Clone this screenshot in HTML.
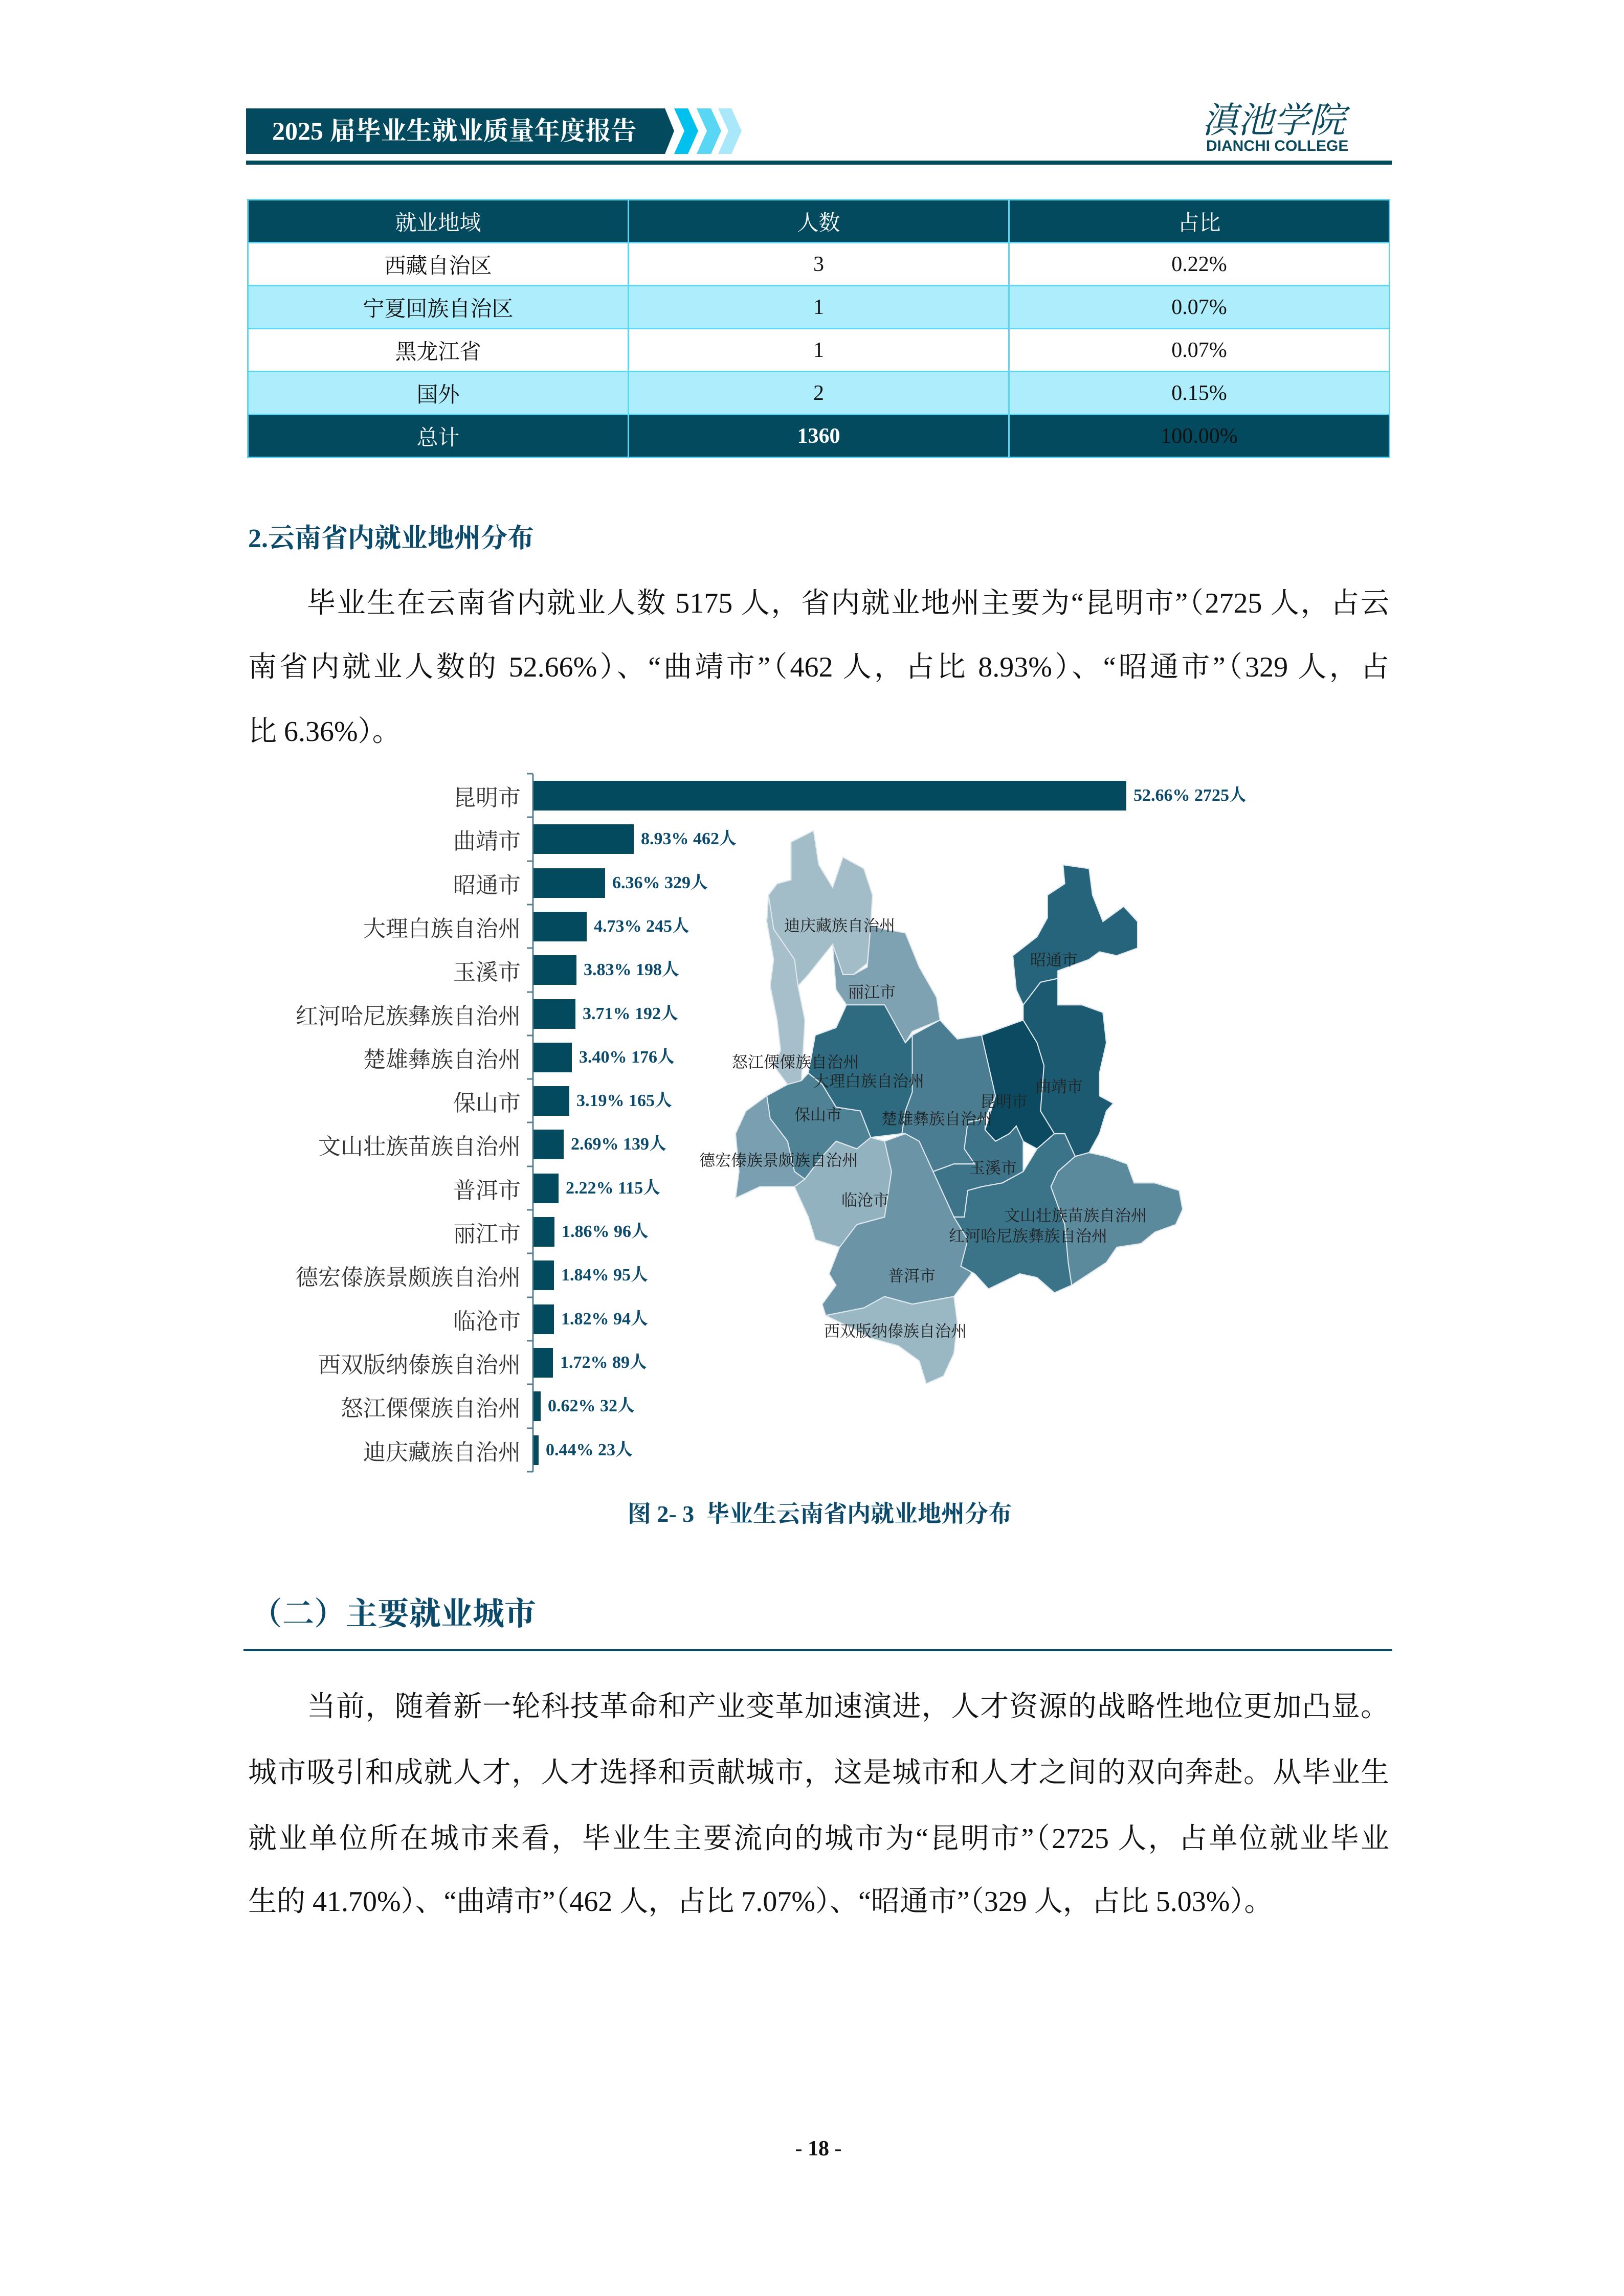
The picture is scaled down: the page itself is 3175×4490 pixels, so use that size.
<!DOCTYPE html>
<html><head><meta charset="utf-8">
<style>
body{margin:0;width:3175px;height:4490px;background:#fff;position:relative;overflow:hidden;font-family:"Liberation Serif","Noto Serif CJK SC",serif;}
.a{position:absolute;white-space:nowrap;}
.ln{position:absolute;left:485px;width:2231px;font-size:56px;line-height:56px;color:#111;text-align:justify;text-align-last:justify;white-space:nowrap;}
table{position:absolute;left:483px;top:389px;width:2235px;border-collapse:collapse;font-size:42px;table-layout:fixed;}
td{border:3px solid #5fd3f0;text-align:center;height:81px;padding:0;color:#111;}
tr.h td{background:#044a5e;color:#fff;}
tr.c td{background:#aeeefc;}
.cat{position:absolute;right:2157px;font-size:44px;line-height:44px;color:#333;font-family:"Noto Serif CJK SC",serif;}
.val{position:absolute;font-size:34px;line-height:34px;color:#0b4a6b;font-weight:bold;}
.bar{position:absolute;left:1043px;height:58px;background:#044a5e;}
.ml{position:absolute;font-size:31px;line-height:31px;color:#222;font-family:"Noto Serif CJK SC",serif;white-space:nowrap;}
</style></head><body>
<!-- header -->
<svg class="a" style="left:0;top:0" width="3175" height="340">
<polygon points="481,212 1300,212 1318,256 1300,301 481,301" fill="#044a5e"/>
<polygon points="1318,212 1345,212 1365,256 1345,301 1318,301 1338,256" fill="#00c0ee"/>
<polygon points="1362,212 1390,212 1410,256 1390,301 1362,301 1382,256" fill="#5ad6f5"/>
<polygon points="1404,212 1430,212 1450,256 1430,301 1404,301 1424,256" fill="#a8e8fa"/>
<rect x="481" y="314" width="2240" height="8" fill="#044a5e"/>
</svg>
<div class="a" style="left:532px;top:228px;font-size:50px;line-height:56px;color:#fff;font-weight:bold;">2025 届毕业生就业质量年度报告</div>
<div class="a" style="left:2350px;top:192px;font-size:70px;line-height:76px;color:#0b4a5e;font-family:'Noto Serif CJK SC',serif;font-style:italic;">滇池学院</div>
<div class="a" style="left:2358px;top:270px;font-size:30px;line-height:32px;color:#0b4a5e;font-weight:bold;font-family:'Liberation Sans',sans-serif;">DIANCHI COLLEGE</div>
<!-- table -->
<table>
<tr class="h"><td>就业地域</td><td>人数</td><td>占比</td></tr>
<tr><td>西藏自治区</td><td>3</td><td>0.22%</td></tr>
<tr class="c"><td>宁夏回族自治区</td><td>1</td><td>0.07%</td></tr>
<tr><td>黑龙江省</td><td>1</td><td>0.07%</td></tr>
<tr class="c"><td>国外</td><td>2</td><td>0.15%</td></tr>
<tr class="h"><td>总计</td><td style="font-weight:bold">1360</td><td style="color:#111">100.00%</td></tr>
</table>
<div class="a" style="left:485px;top:1026px;font-size:52px;line-height:56px;color:#0b4a6b;font-weight:bold;">2.云南省内就业地州分布</div>
<div class="ln" style="top:1152px;left:600px;width:2116px;">毕业生在云南省内就业人数 5175 人，省内就业地州主要为“昆明市”（2725 人，占云</div>
<div class="ln" style="top:1277px;">南省内就业人数的 52.66%）、“曲靖市”（462 人，占比 8.93%）、“昭通市”（329 人，占</div>
<div class="ln" style="top:1403px;text-align-last:left;text-align:left;">比 6.36%）。</div>
<!-- bar chart -->
<svg class="a" style="left:0;top:0" width="3175" height="2900">
<line x1="1042" y1="1513" x2="1042" y2="2878" stroke="#5a7f8f" stroke-width="3"/>
<g stroke="#5a7f8f" stroke-width="3">
<line x1="1030" y1="1513" x2="1042" y2="1513"/><line x1="1030" y1="1598" x2="1042" y2="1598"/><line x1="1030" y1="1684" x2="1042" y2="1684"/><line x1="1030" y1="1769" x2="1042" y2="1769"/><line x1="1030" y1="1854" x2="1042" y2="1854"/><line x1="1030" y1="1940" x2="1042" y2="1940"/><line x1="1030" y1="2025" x2="1042" y2="2025"/><line x1="1030" y1="2110" x2="1042" y2="2110"/><line x1="1030" y1="2195" x2="1042" y2="2195"/><line x1="1030" y1="2281" x2="1042" y2="2281"/><line x1="1030" y1="2366" x2="1042" y2="2366"/><line x1="1030" y1="2451" x2="1042" y2="2451"/><line x1="1030" y1="2537" x2="1042" y2="2537"/><line x1="1030" y1="2622" x2="1042" y2="2622"/><line x1="1030" y1="2707" x2="1042" y2="2707"/><line x1="1030" y1="2793" x2="1042" y2="2793"/><line x1="1030" y1="2878" x2="1042" y2="2878"/>
</g>
</svg>
<div class="bar" style="top:1527px;width:1159px"></div>
<div class="bar" style="top:1612px;width:196px"></div>
<div class="bar" style="top:1698px;width:140px"></div>
<div class="bar" style="top:1783px;width:104px"></div>
<div class="bar" style="top:1868px;width:84px"></div>
<div class="bar" style="top:1954px;width:82px"></div>
<div class="bar" style="top:2039px;width:75px"></div>
<div class="bar" style="top:2124px;width:70px"></div>
<div class="bar" style="top:2209px;width:59px"></div>
<div class="bar" style="top:2295px;width:49px"></div>
<div class="bar" style="top:2380px;width:41px"></div>
<div class="bar" style="top:2465px;width:40px"></div>
<div class="bar" style="top:2551px;width:40px"></div>
<div class="bar" style="top:2636px;width:38px"></div>
<div class="bar" style="top:2721px;width:14px"></div>
<div class="bar" style="top:2807px;width:10px"></div>
<div class="val" style="left:2216px;top:1539px">52.66% 2725人</div>
<div class="val" style="left:1253px;top:1624px">8.93% 462人</div>
<div class="val" style="left:1197px;top:1710px">6.36% 329人</div>
<div class="val" style="left:1161px;top:1795px">4.73% 245人</div>
<div class="val" style="left:1141px;top:1880px">3.83% 198人</div>
<div class="val" style="left:1139px;top:1966px">3.71% 192人</div>
<div class="val" style="left:1132px;top:2051px">3.40% 176人</div>
<div class="val" style="left:1127px;top:2136px">3.19% 165人</div>
<div class="val" style="left:1116px;top:2221px">2.69% 139人</div>
<div class="val" style="left:1106px;top:2307px">2.22% 115人</div>
<div class="val" style="left:1098px;top:2392px">1.86% 96人</div>
<div class="val" style="left:1097px;top:2477px">1.84% 95人</div>
<div class="val" style="left:1097px;top:2563px">1.82% 94人</div>
<div class="val" style="left:1095px;top:2648px">1.72% 89人</div>
<div class="val" style="left:1071px;top:2733px">0.62% 32人</div>
<div class="val" style="left:1067px;top:2819px">0.44% 23人</div>
<div class="cat" style="top:1534px">昆明市</div>
<div class="cat" style="top:1619px">曲靖市</div>
<div class="cat" style="top:1705px">昭通市</div>
<div class="cat" style="top:1790px">大理白族自治州</div>
<div class="cat" style="top:1875px">玉溪市</div>
<div class="cat" style="top:1961px">红河哈尼族彝族自治州</div>
<div class="cat" style="top:2046px">楚雄彝族自治州</div>
<div class="cat" style="top:2131px">保山市</div>
<div class="cat" style="top:2216px">文山壮族苗族自治州</div>
<div class="cat" style="top:2302px">普洱市</div>
<div class="cat" style="top:2387px">丽江市</div>
<div class="cat" style="top:2472px">德宏傣族景颇族自治州</div>
<div class="cat" style="top:2558px">临沧市</div>
<div class="cat" style="top:2643px">西双版纳傣族自治州</div>
<div class="cat" style="top:2728px">怒江傈僳族自治州</div>
<div class="cat" style="top:2814px">迪庆藏族自治州</div>
<!-- map -->
<svg class="a" style="left:0;top:0" width="3175" height="2900">
<g transform="translate(1350,1580) scale(0.6775,0.7407)" stroke="#dfe8ec" stroke-width="3">
<polygon fill="#a2bcc8" points="290,90 355,60 370,150 410,210 440,130 500,160 525,230 520,310 510,410 470,440 440,440 410,360 340,440 310,470 300,400 240,320 225,230 250,200 290,190"/>
<polygon fill="#a6bfcb" points="225,230 240,320 300,400 310,470 330,560 320,720 280,730 240,680 260,640 250,560 230,470 240,400 220,300"/>
<polygon fill="#7fa2b2" points="410,360 440,440 470,440 510,420 520,310 560,320 620,330 660,420 710,500 720,560 640,590 620,620 560,520 450,520 420,480"/>
<polygon fill="#2e6b81" points="450,520 560,520 620,620 640,600 640,750 620,800 610,860 520,870 490,800 420,790 380,730 340,700 360,600 420,580"/>
<polygon fill="#4f8295" points="340,700 380,730 420,790 490,800 520,870 480,900 420,880 380,920 330,980 300,960 280,880 230,820 220,760 280,730 320,720"/>
<polygon fill="#7a9fb0" points="220,760 230,820 280,880 300,960 330,980 300,1000 200,1000 130,1030 140,960 130,860 160,800"/>
<polygon fill="#93b2bf" points="330,980 380,920 420,880 480,900 520,870 560,880 580,960 560,1080 480,1100 430,1160 360,1140 340,1080 300,1000"/>
<polygon fill="#6b95a7" points="560,880 620,860 660,880 700,960 760,1080 800,1140 810,1230 760,1290 700,1300 640,1310 560,1290 500,1320 390,1340 380,1310 420,1260 400,1230 430,1160 480,1100 560,1080 580,960"/>
<polygon fill="#9ab7c4" points="390,1340 500,1320 560,1290 640,1310 700,1300 760,1290 770,1360 760,1440 730,1500 680,1520 660,1460 600,1420 520,1400 480,1380"/>
<polygon fill="#4a7d91" points="640,600 720,560 770,610 840,600 880,760 850,820 800,830 790,900 820,940 760,940 700,960 660,880 620,860 610,860 620,800 640,750"/>
<polygon fill="#0b4a60" points="840,600 900,580 960,560 1000,620 1020,680 1010,800 1050,860 1000,900 960,880 940,840 920,860 880,880 850,850 880,760"/>
<polygon fill="#3e7489" points="800,830 850,820 850,850 880,880 920,860 940,840 960,880 960,960 900,990 840,1000 800,1010 790,1080 760,1080 700,960 760,940 820,940 790,900"/>
<polygon fill="#1b5a71" points="960,560 960,520 1010,460 1060,450 1060,520 1130,520 1190,540 1200,620 1180,700 1180,760 1220,780 1200,800 1180,860 1150,910 1110,920 1080,860 1050,860 1010,800 1020,680 1000,620"/>
<polygon fill="#26647b" points="1010,460 960,520 940,480 930,390 1000,340 1030,290 1030,230 1080,200 1075,150 1150,160 1160,230 1190,300 1250,260 1290,300 1290,370 1230,390 1180,380 1150,400 1060,430 1060,450"/>
<polygon fill="#3b7388" points="800,1010 840,1000 900,990 960,960 1000,900 1050,860 1080,860 1110,920 1060,960 1040,1000 1080,1100 1090,1200 1100,1260 1050,1280 1000,1240 950,1230 860,1270 820,1230 780,1210 800,1140 760,1080 790,1080"/>
<polygon fill="#5b8a9d" points="1110,920 1150,910 1200,920 1260,940 1280,990 1340,990 1410,1010 1420,1060 1400,1100 1340,1120 1300,1150 1230,1160 1200,1200 1100,1260 1090,1200 1080,1100 1040,1000 1060,960"/>
</g>
</svg>
<div class="ml" style="left:1533px;top:1792px">迪庆藏族自治州</div>
<div class="ml" style="left:2014px;top:1859px">昭通市</div>
<div class="ml" style="left:1658px;top:1922px">丽江市</div>
<div class="ml" style="left:1431px;top:2059px">怒江傈僳族自治州</div>
<div class="ml" style="left:1590px;top:2096px">大理白族自治州</div>
<div class="ml" style="left:2024px;top:2107px">曲靖市</div>
<div class="ml" style="left:1916px;top:2136px">昆明市</div>
<div class="ml" style="left:1553px;top:2162px">保山市</div>
<div class="ml" style="left:1723px;top:2170px">楚雄彝族自治州</div>
<div class="ml" style="left:1367px;top:2251px">德宏傣族景颇族自治州</div>
<div class="ml" style="left:1895px;top:2266px">玉溪市</div>
<div class="ml" style="left:1645px;top:2329px">临沧市</div>
<div class="ml" style="left:1963px;top:2359px">文山壮族苗族自治州</div>
<div class="ml" style="left:1855px;top:2399px">红河哈尼族彝族自治州</div>
<div class="ml" style="left:1736px;top:2477px">普洱市</div>
<div class="ml" style="left:1611px;top:2585px">西双版纳傣族自治州</div>
<!-- caption and section -->
<div class="a" style="left:0;width:3175px;text-align:center;top:2936px;font-size:46px;line-height:50px;color:#0b4a6b;font-weight:bold;padding-left:30px;box-sizing:border-box;">图 2- 3 &nbsp;毕业生云南省内就业地州分布</div>
<div class="a" style="left:490px;top:3124px;font-size:62px;line-height:66px;color:#0b4a6b;font-weight:bold;">（二）主要就业城市</div>
<div class="a" style="left:476px;top:3225px;width:2246px;height:4px;background:#0b4a6b;"></div>
<div class="ln" style="top:3310px;left:600px;width:2116px;">当前，随着新一轮科技革命和产业变革加速演进，人才资源的战略性地位更加凸显。</div>
<div class="ln" style="top:3439px;">城市吸引和成就人才，人才选择和贡献城市，这是城市和人才之间的双向奔赴。从毕业生</div>
<div class="ln" style="top:3568px;">就业单位所在城市来看，毕业生主要流向的城市为“昆明市”（2725 人，占单位就业毕业</div>
<div class="ln" style="top:3691px;text-align-last:left;text-align:left;">生的 41.70%）、“曲靖市”（462 人，占比 7.07%）、“昭通市”（329 人，占比 5.03%）。</div>
<div class="a" style="left:0;width:3175px;text-align:center;top:4180px;font-size:42px;line-height:44px;font-weight:bold;color:#111;padding-left:25px;box-sizing:border-box;">- 18 -</div>
</body></html>
